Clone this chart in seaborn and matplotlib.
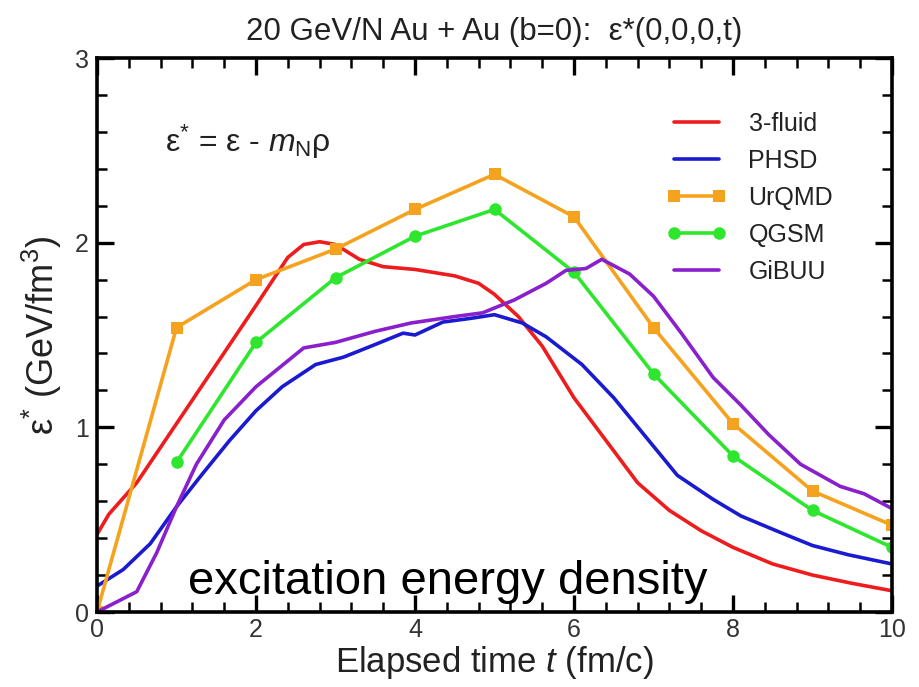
import numpy as np
import pandas as pd
import seaborn as sns
import matplotlib
matplotlib.use("Agg")
import matplotlib.pyplot as plt
from matplotlib.ticker import MultipleLocator

# ---------------- data ----------------
fluid3_t = [0, 0.15, 0.5, 1.0, 1.5, 2.0, 2.4, 2.6, 2.8, 3.0, 3.3, 3.6, 4.0, 4.5, 4.8, 5.0,
            5.3, 5.6, 6.0, 6.4, 6.8, 7.2, 7.6, 8.0, 8.5, 9.0, 9.5, 10.0]
fluid3_e = [0.42, 0.53, 0.70, 1.02, 1.34, 1.66, 1.92, 1.99, 2.005, 1.99, 1.91, 1.87, 1.855, 1.82,
            1.78, 1.72, 1.60, 1.44, 1.16, 0.93, 0.70, 0.55, 0.44, 0.35, 0.26, 0.20, 0.155, 0.115]

phsd_t = [0, 0.33, 0.67, 1.0, 1.33, 1.67, 2.0, 2.33, 2.75, 3.1, 3.45, 3.85, 4.0, 4.35, 4.7, 5.0,
          5.35, 5.65, 6.1, 6.5, 6.9, 7.3, 7.75, 8.1, 8.6, 9.0, 9.45, 10.0]
phsd_e = [0.14, 0.23, 0.37, 0.57, 0.75, 0.93, 1.09, 1.22, 1.34, 1.38, 1.44, 1.51, 1.50, 1.57, 1.59,
          1.61, 1.565, 1.49, 1.34, 1.16, 0.95, 0.74, 0.61, 0.52, 0.43, 0.36, 0.31, 0.26]

urqmd_t = [0, 1, 2, 3, 4, 5, 6, 7, 8, 9, 10]
urqmd_e = [0.0, 1.54, 1.80, 1.965, 2.18, 2.37, 2.14, 1.54, 1.02, 0.655, 0.47]

qgsm_t = [1, 2, 3, 4, 5, 6, 7, 8, 9, 10]
qgsm_e = [0.81, 1.46, 1.81, 2.035, 2.18, 1.84, 1.29, 0.845, 0.55, 0.35]

gibuu_t = [0, 0.5, 0.75, 1.0, 1.25, 1.6, 2.0, 2.6, 3.0, 3.5, 3.95, 4.5, 4.85, 5.25, 5.65, 5.9,
           6.15, 6.35, 6.7, 7.0, 7.35, 7.75, 8.1, 8.45, 8.85, 9.35, 9.65, 10.0]
gibuu_e = [0.0, 0.11, 0.32, 0.57, 0.80, 1.04, 1.22, 1.43, 1.46, 1.52, 1.565, 1.60, 1.62, 1.69,
           1.78, 1.85, 1.86, 1.91, 1.83, 1.71, 1.51, 1.27, 1.12, 0.96, 0.80, 0.68, 0.64, 0.56]

series_names = ["3-fluid", "PHSD", "UrQMD", "QGSM", "GiBUU"]
x_ticks = [0, 2, 4, 6, 8, 10]
y_ticks = [0, 1, 2, 3]

# ---------------- style ----------------
sns.set_theme(style="ticks")
plt.rcParams['font.family'] = ['Liberation Sans', 'DejaVu Sans']
plt.rcParams['mathtext.fontset'] = 'custom'
plt.rcParams['mathtext.rm'] = 'Liberation Sans'
plt.rcParams['mathtext.it'] = 'Liberation Sans:italic'
plt.rcParams['mathtext.bf'] = 'Liberation Sans:bold'

fig = plt.figure(figsize=(9.19, 6.87), dpi=100)
ax = fig.add_axes([97/919, 1 - 612/687, (892-97)/919, (612-58)/687])

lw = 2.6
styles = {
    "3-fluid": dict(color="#ee1c1c", marker=None),
    "PHSD": dict(color="#1a1ad0", marker=None),
    "UrQMD": dict(color="#f5a21e", marker="s"),
    "QGSM": dict(color="#2ee62e", marker="o"),
    "GiBUU": dict(color="#8a1fcc", marker=None),
}
data = {
    "3-fluid": (fluid3_t, fluid3_e),
    "PHSD": (phsd_t, phsd_e),
    "UrQMD": (urqmd_t, urqmd_e),
    "QGSM": (qgsm_t, qgsm_e),
    "GiBUU": (gibuu_t, gibuu_e),
}

for name in series_names:
    t, e = data[name]
    df = pd.DataFrame({"t": t, "e": e})
    st = styles[name]
    kw = dict(color=st["color"], linewidth=lw, label=name, sort=False, estimator=None)
    if st["marker"]:
        kw.update(marker=st["marker"], markersize=9, markeredgewidth=0,
                  markerfacecolor=st["color"])
    sns.lineplot(data=df, x="t", y="e", ax=ax, **kw)

ax.set_xlim(0, 10)
ax.set_ylim(0, 3)
ax.set_xticks(x_ticks)
ax.set_yticks(y_ticks)
ax.set_xticklabels([str(v) for v in x_ticks])
ax.set_yticklabels([str(v) for v in y_ticks])
ax.xaxis.set_minor_locator(MultipleLocator(0.4))
ax.yaxis.set_minor_locator(MultipleLocator(0.2))
ax.tick_params(which="both", direction="in", top=True, right=True, color="black")
ax.tick_params(which="major", length=12, width=2.4, labelsize=18, labelcolor="#333333", pad=4)
ax.tick_params(axis="y", which="major", pad=6)
ax.tick_params(which="minor", length=7, width=1.8)
for sp in ax.spines.values():
    sp.set_linewidth(2.6)
    sp.set_color("black")

ax.set_xlabel("Elapsed time $\\it{t}$ (fm/c)", fontsize=25, color="#222222", labelpad=2)
ax.set_ylabel("ε$^{*}$ (GeV/fm$\\mathregular{^3}$)", fontsize=26,
              color="#222222", labelpad=8)
ax.set_title("20 GeV/N Au + Au (b=0):  ε*(0,0,0,t)", fontsize=22.5, color="#222222", pad=13)

ax.text(0.085, 0.83, "ε$^{*}$ = ε - $m_{\\mathregular{N}}$ρ",
        transform=ax.transAxes, fontsize=23, color="#222222", va="baseline")
ax.text(0.114, 0.033, "excitation energy density", transform=ax.transAxes,
        fontsize=34, color="black", va="baseline")

leg = ax.legend(loc="upper left", bbox_to_anchor=(0.70, 0.925), frameon=False,
                fontsize=18, handlelength=2.4, numpoints=2, labelspacing=0.52,
                handletextpad=0.9, borderpad=0)
for txt in leg.get_texts():
    txt.set_color("#222222")

fig.savefig("out.png", dpi=100)
